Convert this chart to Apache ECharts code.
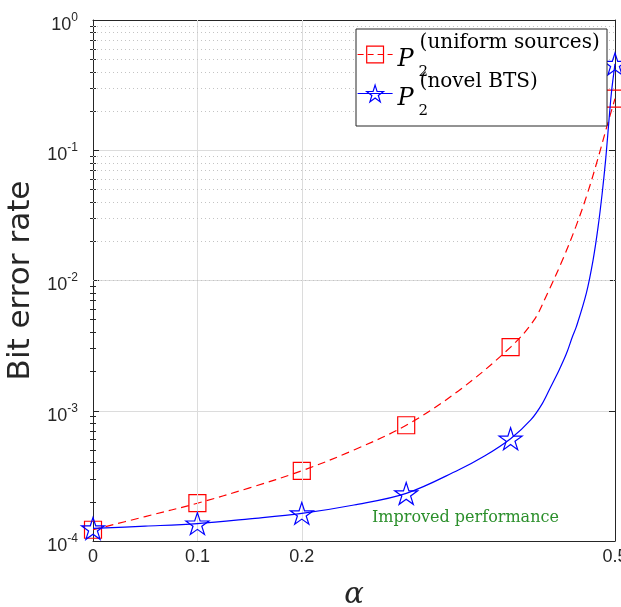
<!DOCTYPE html>
<html><head><meta charset="utf-8">
<script src="https://cdn.jsdelivr.net/npm/echarts@6/dist/echarts.min.js"></script>
<style>html,body{margin:0;padding:0;background:#fff}#chart{width:621px;height:607px}</style>
</head><body><div id="chart"></div>
<script>
// ---- data ----
const xMarkers = [0, 0.1, 0.2, 0.3, 0.4, 0.5];
const uniformMarkers = [1.22e-4, 1.95e-4, 3.46e-4, 7.74e-4, 3.08e-3, 0.249];
const novelMarkers = [1.25e-4, 1.36e-4, 1.63e-4, 2.32e-4, 6.1e-4, 0.46];
const uniformCurveX = [0.05, 0.15, 0.25, 0.35, 0.4224, 0.4353, 0.4497, 0.4624, 0.4736, 0.4832, 0.4921];
const uniformCurveY = [1.54e-4, 2.56e-4, 5.0e-4, 1.42e-3, 4.96e-3, 7.96e-3, 0.01435, 0.0258, 0.0466, 0.0839, 0.151];
const novelCurveX = [0.05, 0.15, 0.25, 0.35, 0.375, 0.4193, 0.4305, 0.4385, 0.4464, 0.4535, 0.4592, 0.4630, 0.4725, 0.4790, 0.4838, 0.4877, 0.4910, 0.4937, 0.4965];
const novelCurveY = [1.30e-4, 1.48e-4, 1.89e-4, 3.51e-4, 4.49e-4, 8.5e-4, 1.14e-3, 1.53e-3, 2.05e-3, 2.75e-3, 3.70e-3, 4.42e-3, 7.96e-3, 0.01435, 0.0258, 0.0466, 0.0839, 0.151, 0.273];
const seriesNames = ['uniform sources', 'novel BTS'];
const seriesSuperscripts = ['(uniform sources)', '(novel BTS)'];
const xTickValues = [0, 0.1, 0.2, 0.5];
const xGridValues = [0.1, 0.2];
const yMin = 1e-4, yMax = 1;
const annotationText = 'Improved performance';

// minor log grid values (2..9 x each decade)
const yMinorValues = [];
for (let e = -4; e < 0; e++) for (let k = 2; k <= 9; k++) yMinorValues.push(+(k * Math.pow(10, e)).toPrecision(3));

function buildData(xs, ys, cx, cy) {
  const pts = xs.map((x, i) => ({ value: [x, ys[i]] }));
  cx.forEach((x, i) => pts.push({ value: [x, cy[i]], symbol: 'none' }));
  pts.sort((a, b) => a.value[0] - b.value[0]);
  return pts;
}

const RED = '#ff0000', BLUE = '#0000ff', AX = '#262626';
const STAR = 'path://M0,-100L22.45,-30.9L95.1,-30.9L36.3,11.8L58.8,80.9L0,38.2L-58.8,80.9L-36.3,11.8L-95.1,-30.9L-22.45,-30.9Z';

const chart = echarts.init(document.getElementById('chart'), null, { renderer: 'canvas' });

const baseX = {
  type: 'value', min: 0, max: 0.5, interval: 0.1,
  axisLine: { show: true, onZero: false, lineStyle: { color: AX, width: 1 } },
  splitLine: { show: false }
};
const baseY = {
  type: 'log', logBase: 10, min: yMin, max: yMax,
  axisLine: { show: true, onZero: false, lineStyle: { color: AX, width: 1 } },
  splitLine: { show: false }
};

const option = {
  animation: false,
  textStyle: { fontFamily: 'Liberation Sans' },
  grid: { left: 93, right: 6, top: 20, bottom: 66, containLabel: false, outerBoundsMode: 'none' },
  xAxis: [
    Object.assign({}, baseX, {
      position: 'bottom',
      name: 'α', nameLocation: 'middle', nameGap: 40,
      nameTextStyle: { fontFamily: 'DejaVu Serif', fontStyle: 'italic', fontSize: 29, color: AX },
      axisTick: { show: true, inside: true, length: 5, lineStyle: { color: AX }, customValues: xTickValues },
      axisLabel: {
        show: true, margin: 7, fontSize: 18, color: AX, fontFamily: 'Liberation Sans',
        customValues: xTickValues, showMinLabel: true, showMaxLabel: true, hideOverlap: false,
        formatter: v => xTickValues.some(t => Math.abs(t - v) < 1e-9) ? String(+(+v).toFixed(1)) : ''
      }
    }),
    Object.assign({}, baseX, {
      position: 'top',
      axisTick: { show: true, inside: true, length: 5, lineStyle: { color: AX }, customValues: xTickValues },
      axisLabel: { show: false }
    })
  ],
  yAxis: [
    Object.assign({}, baseY, {
      position: 'left',
      name: 'Bit error rate', nameLocation: 'middle', nameGap: 55,
      nameTextStyle: { fontFamily: 'DejaVu Sans', fontSize: 31, color: AX },
      axisTick: { show: true, inside: true, length: 6, lineStyle: { color: AX } },
      splitLine: { show: true, lineStyle: { color: '#dcdcdc', width: 1 } },
      axisLabel: {
        show: true, margin: 15, color: AX, fontFamily: 'Liberation Sans', showMinLabel: true, showMaxLabel: true,
        formatter: v => '{b|10}{s|' + Math.round(Math.log10(v)) + '}',
        rich: {
          b: { fontSize: 18, lineHeight: 18, padding: [10, 0, 0, 0], color: AX, fontFamily: 'Liberation Sans' },
          s: { fontSize: 12, lineHeight: 12, padding: [0, 0, 5, 0], color: AX, fontFamily: 'Liberation Sans' }
        }
      }
    }),
    Object.assign({}, baseY, {
      position: 'right',
      axisTick: { show: true, inside: true, length: 6, lineStyle: { color: AX } },
      axisLabel: { show: false }
    }),
    Object.assign({}, baseY, {
      position: 'left',
      axisLine: { show: false },
      axisTick: { show: true, inside: true, length: 3, lineStyle: { color: AX }, customValues: yMinorValues },
      axisLabel: { show: false }
    }),
    Object.assign({}, baseY, {
      position: 'right',
      axisLine: { show: false },
      axisTick: { show: true, inside: true, length: 3, lineStyle: { color: AX }, customValues: yMinorValues },
      axisLabel: { show: false }
    })
  ],
  legend: {
    orient: 'vertical', left: 357, top: 29, z: 8,
    padding: 0, itemGap: -12, itemWidth: 35, itemHeight: 21,
    backgroundColor: 'rgba(0,0,0,0)', borderWidth: 0,
    selectedMode: false,
    data: [
      { name: seriesNames[0], itemStyle: { color: 'rgba(255,255,255,0)', borderColor: RED, borderWidth: 1.2 }, lineStyle: { color: RED, width: 1.2, type: [6, 4] } },
      { name: seriesNames[1], itemStyle: { color: 'rgba(255,255,255,0)', borderColor: BLUE, borderWidth: 1.2 }, lineStyle: { color: BLUE, width: 1.2, type: 'solid' } }
    ],
    formatter: name => '{p|P}{s|2}{u|' + seriesSuperscripts[seriesNames.indexOf(name)] + '}',
    textStyle: {
      rich: {
        p: { fontFamily: 'DejaVu Serif', fontStyle: 'italic', fontSize: 24, lineHeight: 24, padding: [13, 0, 2, 0], width: 21, color: '#000' },
        s: { fontFamily: 'DejaVu Serif', fontSize: 15, lineHeight: 15, padding: [36, 0, 0, 0], width: 1, color: '#000' },
        u: { fontFamily: 'DejaVu Serif', fontSize: 20, lineHeight: 14, padding: [0, 0, 24, 0], color: '#000' }
      }
    }
  },
  graphic: [
    { type: 'rect', z: 7, silent: true, shape: { x: 356, y: 29, width: 251, height: 97 },
      style: { fill: '#ffffff', stroke: AX, lineWidth: 1 } },
    { type: 'text', x: 372, y: 518, silent: true, z: 7,
      style: { text: annotationText, fill: '#2b8f2b', font: '16px "DejaVu Serif"', verticalAlign: 'middle' } }
  ],
  series: [
    {
      name: '_grid', type: 'line', data: [], silent: true, z: 1,
      markLine: {
        silent: true, symbol: ['none', 'none'], label: { show: false }, animation: false,
        data: [
          ...xGridValues.map(v => ({ xAxis: v, lineStyle: { color: '#dcdcdc', type: 'solid', width: 1 } })),
          ...yMinorValues.map(v => ({ yAxis: v, lineStyle: { color: '#c4c4c4', type: [1, 3], width: 1 } }))
        ]
      }
    },
    {
      name: seriesNames[0], type: 'line', z: 4,
      data: buildData(xMarkers, uniformMarkers, uniformCurveX, uniformCurveY),
      symbol: 'rect', symbolSize: 17,
      itemStyle: { color: 'rgba(255,255,255,0)', borderColor: RED, borderWidth: 1.2 },
      lineStyle: { color: RED, width: 1.2, type: [8, 5] },
      smooth: 0.35, emphasis: { disabled: true }
    },
    {
      name: seriesNames[1], type: 'line', z: 5,
      data: buildData(xMarkers, novelMarkers, novelCurveX, novelCurveY),
      symbol: STAR, symbolSize: 23, symbolKeepAspect: true,
      itemStyle: { color: 'rgba(255,255,255,0)', borderColor: BLUE, borderWidth: 1.2 },
      lineStyle: { color: BLUE, width: 1.2, type: 'solid' },
      smooth: 0.35, emphasis: { disabled: true }
    }
  ]
};
chart.setOption(option);
</script>
</body></html>
